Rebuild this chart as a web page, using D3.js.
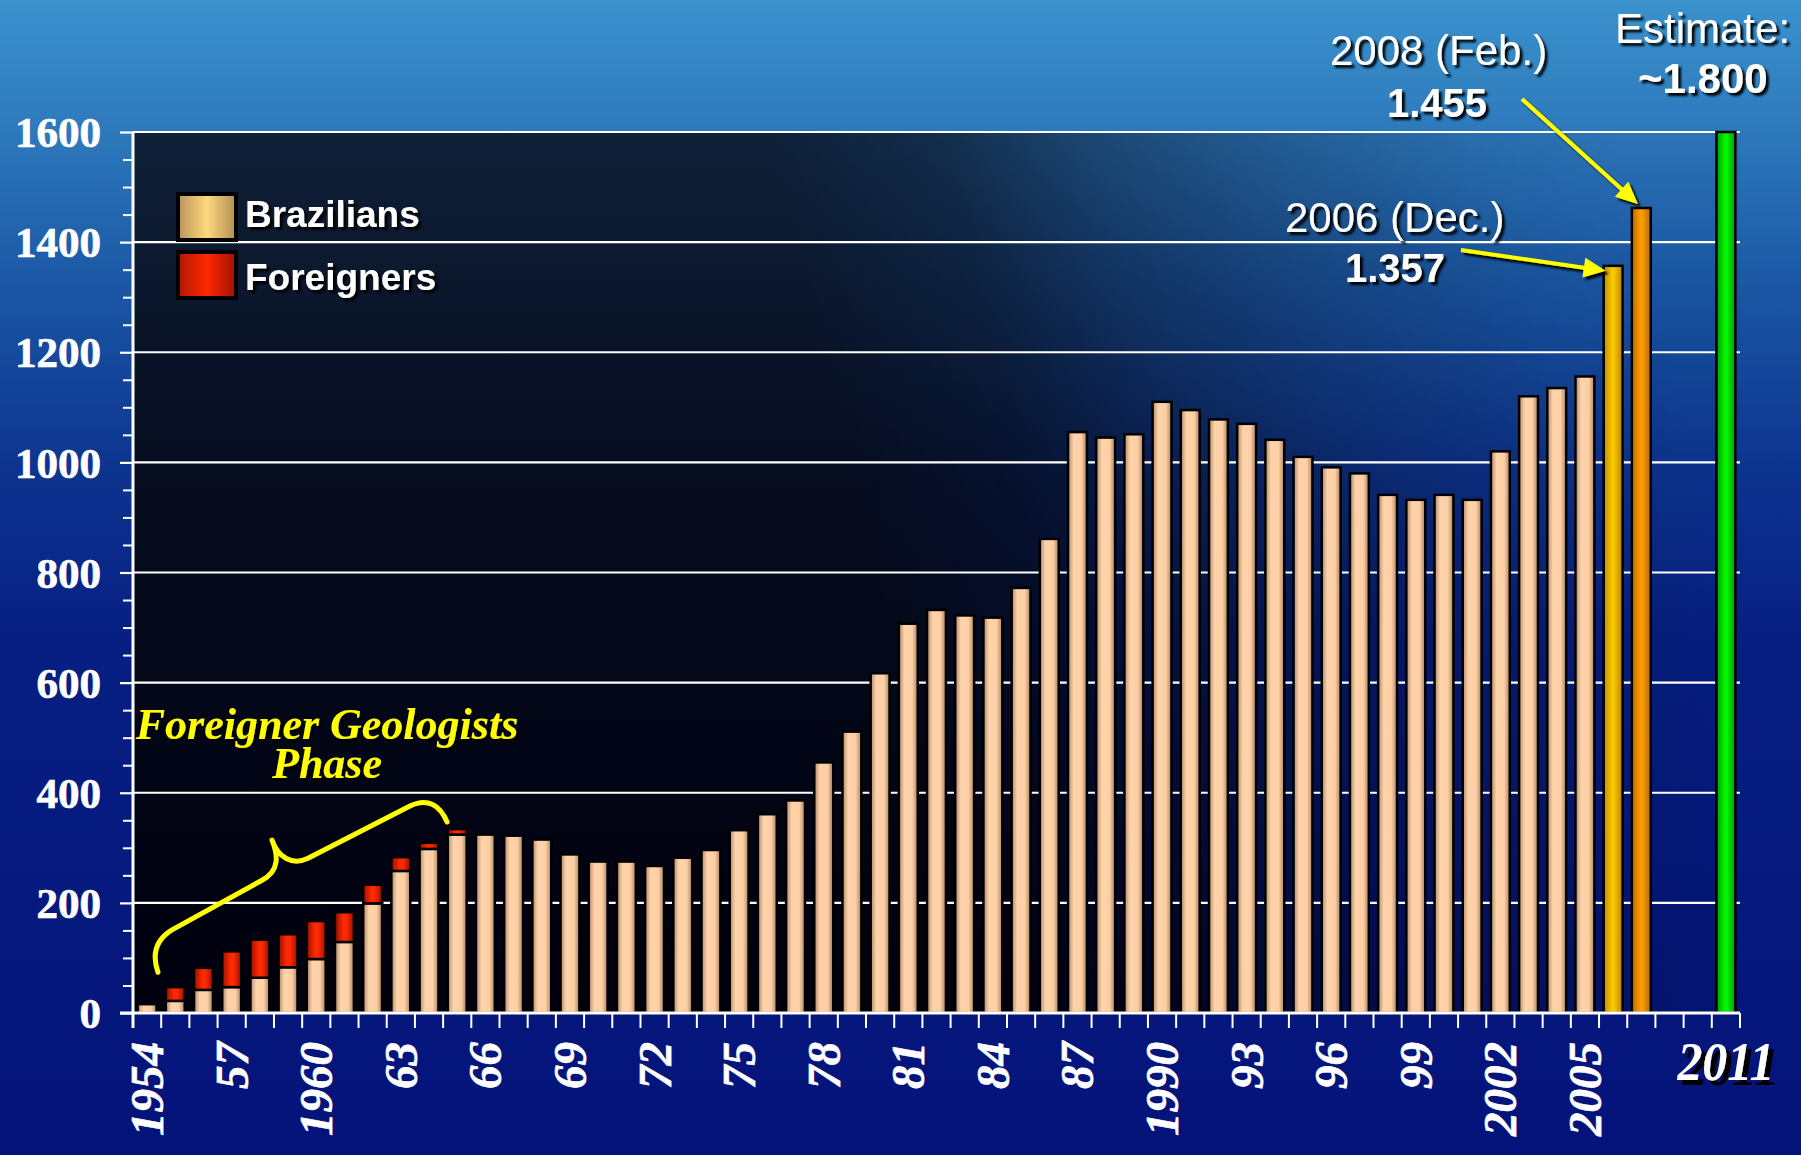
<!DOCTYPE html>
<html><head><meta charset="utf-8">
<script src="https://cdn.jsdelivr.net/npm/d3@7"></script>
<style>html,body{margin:0;padding:0;background:#0a1f80;overflow:hidden}</style>
</head><body><svg id="c" width="1801" height="1155"></svg>
<script>
// ---------------- DATA ----------------
const categories = ["1954","1955","1956","1957","1958","1959","1960","1961","1962","1963","1964","1965","1966","1967","1968","1969","1970","1971","1972","1973","1974","1975","1976","1977","1978","1979","1980","1981","1982","1983","1984","1985","1986","1987","1988","1989","1990","1991","1992","1993","1994","1995","1996","1997","1998","1999","2000","2001","2002","2003","2004","2005","2006","2008","2009","2010","2011"];
const histCategories = ["1954","1955","1956","1957","1958","1959","1960","1961","1962","1963","1964","1965","1966","1967","1968","1969","1970","1971","1972","1973","1974","1975","1976","1977","1978","1979","1980","1981","1982","1983","1984","1985","1986","1987","1988","1989","1990","1991","1992","1993","1994","1995","1996","1997","1998","1999","2000","2001","2002","2003","2004","2005"];
const brazilians = [16,22,42,47,64,83,98,129,199,258,298,324,324,322,315,288,275,275,267,282,296,332,361,386,455,511,617,707,732,722,718,772,861,1055,1045,1051,1110,1095,1078,1070,1041,1010,991,980,941,932,941,932,1020,1120,1135,1156];
const foreigners = [0,25,40,65,69,60,69,54,34,25,11,10,0,0,0,0,0,0,0,0,0,0,0,0,0,0,0,0,0,0,0,0,0,0,0,0,0,0,0,0,0,0,0,0,0,0,0,0,0,0,0,0];
const recentCategories = ["2006","2008"];
const recentValues = [1357,1462];
const recentLabels = ["2006 (Dec.)","2008 (Feb.)"];
const recentValueLabels = ["1.357","1.455"];
const estimateCategory = "2011";
const estimateValue = 1800;
const estimateLabel = "Estimate:";
const estimateValueLabel = "~1.800";
const yTicks = [0,200,400,600,800,1000,1200,1400,1600];
const xLabelCategories = ["1954","1957","1960","1963","1966","1969","1972","1975","1978","1981","1984","1987","1990","1993","1996","1999","2002","2005"];
const xLabelTexts = ["1954","57","1960","63","66","69","72","75","78","81","84","87","1990","93","96","99","2002","2005"];
const seriesNames = ["Brazilians","Foreigners"];
const phaseLabel = ["Foreigner Geologists","Phase"];

// ---------------- LAYOUT ----------------
const W = 1801, H = 1155;
const L = 133, R = 1740, T = 132, B = 1013;
const SERIF = "'Liberation Serif','Times New Roman',serif";
const SANS = "'Liberation Sans',Arial,sans-serif";

const svg = d3.select("#c");
const defs = svg.append("defs");

function lin(id, stops, horiz = true) {
  const g = defs.append("linearGradient").attr("id", id)
    .attr("x1", 0).attr("y1", 0).attr("x2", horiz ? 1 : 0).attr("y2", horiz ? 0 : 1);
  stops.forEach(s => g.append("stop").attr("offset", s[0]).attr("stop-color", s[1]).attr("stop-opacity", s[2] == null ? 1 : s[2]));
  return g;
}
lin("bg", [[0, "#3b92cd"], [0.1, "#2f7cbe"], [0.25, "#1a56a4"], [0.4, "#0d3590"], [0.55, "#071f82"], [1, "#04137a"]], false);
lin("bz", [[0, "#b08868"], [0.3, "#ffd3aa"], [0.7, "#ffcfa5"], [1, "#a88262"]]);
lin("fr", [[0, "#9a1000"], [0.45, "#ff2a00"], [0.6, "#ff2a00"], [1, "#9a1000"]]);
lin("bzL", [[0, "#b8945a"], [0.5, "#ffd880"], [1, "#b08c52"]]);
lin("frL", [[0, "#b01800"], [0.5, "#ff2800"], [1, "#a01000"]]);
lin("gold", [[0, "#c08c00"], [0.5, "#ffcc00"], [1, "#b88400"]]);
lin("orng", [[0, "#c06c00"], [0.5, "#ffa000"], [1, "#b86800"]]);
lin("grn", [[0, "#009c00"], [0.5, "#00ff00"], [1, "#009800"]]);
lin("darkV", [[0, "#0f2038"], [0.4, "#060c1e"], [1, "#00000e"]], false);
const mg = defs.append("linearGradient").attr("id", "maskG")
  .attr("gradientUnits", "userSpaceOnUse").attr("x1", L).attr("y1", B).attr("x2", R).attr("y2", B - 400);
[[0, 1], [0.5, 1], [0.6, 0.85], [0.69, 0.55], [0.8, 0.3], [0.92, 0.1], [1, 0.04]]
  .forEach(s => mg.append("stop").attr("offset", s[0]).attr("stop-color", "#fff").attr("stop-opacity", s[1]));
defs.append("mask").attr("id", "plotMask").attr("maskUnits", "userSpaceOnUse")
  .attr("x", 0).attr("y", 0).attr("width", W).attr("height", H)
  .append("rect").attr("x", L).attr("y", T).attr("width", R - L).attr("height", B - T).attr("fill", "url(#maskG)");

const f = defs.append("filter").attr("id", "sh").attr("x", "-20%").attr("y", "-30%").attr("width", "150%").attr("height", "180%");
f.append("feDropShadow").attr("dx", 3).attr("dy", 3).attr("stdDeviation", 0.8).attr("flood-color", "#000").attr("flood-opacity", 0.95);
const f2 = defs.append("filter").attr("id", "sh2").attr("x", "-20%").attr("y", "-30%").attr("width", "150%").attr("height", "180%");
f2.append("feDropShadow").attr("dx", 5).attr("dy", 5).attr("stdDeviation", 0.6).attr("flood-color", "#000").attr("flood-opacity", 1);

svg.append("rect").attr("width", W).attr("height", H).attr("fill", "url(#bg)");
svg.append("rect").attr("x", L).attr("y", T).attr("width", R - L).attr("height", B - T)
  .attr("fill", "url(#darkV)").attr("mask", "url(#plotMask)");

// ---------------- SCALES ----------------
const x = d3.scaleBand().domain(categories).range([L, R]).paddingInner(0.33).paddingOuter(0.165);
const y = d3.scaleLinear().domain([0, 1600]).range([B, T]).clamp(true);
const bw = x.bandwidth();

// gridlines
svg.append("g").selectAll("line").data(yTicks.filter(v => v > 0)).join("line")
  .attr("x1", L).attr("x2", R).attr("y1", d => y(d)).attr("y2", d => y(d))
  .attr("stroke", "#fff").attr("stroke-width", 2.2);

// ---------------- BARS ----------------
const hist = histCategories.map((c, i) => ({ c, b: brazilians[i], f: foreigners[i] }));
const gb = svg.append("g").attr("stroke", "#000").attr("stroke-width", 2.5);
gb.selectAll("rect.bz").data(hist).join("rect").attr("class", "bz")
  .attr("x", d => x(d.c)).attr("width", bw)
  .attr("y", d => y(d.b)).attr("height", d => y(0) - y(d.b)).attr("fill", "url(#bz)");
gb.selectAll("rect.fr").data(hist.filter(d => d.f > 0)).join("rect").attr("class", "fr")
  .attr("x", d => x(d.c)).attr("width", bw)
  .attr("y", d => y(d.b + d.f)).attr("height", d => y(d.b) - y(d.b + d.f)).attr("fill", "url(#fr)");
const recent = recentCategories.map((c, i) => ({ c, v: recentValues[i], fill: i === 0 ? "url(#gold)" : "url(#orng)" }));
gb.selectAll("rect.rc").data(recent).join("rect").attr("class", "rc")
  .attr("x", d => x(d.c)).attr("width", bw)
  .attr("y", d => y(d.v)).attr("height", d => y(0) - y(d.v)).attr("fill", d => d.fill);
gb.append("rect").attr("x", x(estimateCategory)).attr("width", bw)
  .attr("y", y(estimateValue)).attr("height", y(0) - y(estimateValue)).attr("fill", "url(#grn)");

// ---------------- AXES ----------------
const ya = svg.append("g").attr("transform", `translate(${L},0)`)
  .call(d3.axisLeft(y).tickValues(yTicks).tickSize(13).tickPadding(19).tickFormat(d3.format("d")));
ya.select(".domain").remove();
ya.selectAll("line").attr("stroke", "#fff").attr("stroke-width", 2.2);
ya.selectAll("text").attr("fill", "#fff").attr("font-family", SERIF).attr("font-weight", "bold")
  .attr("font-size", 43).attr("dy", "0.34em").attr("stroke", "#fff").attr("stroke-width", 0.7);
const yMinor = d3.range(0, 1600, 50).filter(v => v % 200 !== 0);
const ym = svg.append("g").attr("transform", `translate(${L},0)`)
  .call(d3.axisLeft(y).tickValues(yMinor).tickSize(10).tickFormat(""));
ym.select(".domain").remove();
ym.selectAll("line").attr("stroke", "#fff").attr("stroke-width", 2);
svg.append("line").attr("x1", L).attr("x2", L).attr("y1", T).attr("y2", B + 15).attr("stroke", "#fff").attr("stroke-width", 3);
svg.append("line").attr("x1", L - 13).attr("x2", R).attr("y1", B).attr("y2", B).attr("stroke", "#fff").attr("stroke-width", 3);
const step = x.step();
svg.append("g").selectAll("line").data(d3.range(categories.length + 1)).join("line")
  .attr("x1", i => L + i * step).attr("x2", i => L + i * step)
  .attr("y1", B).attr("y2", B + 15).attr("stroke", "#fff").attr("stroke-width", 2);
svg.append("g").selectAll("text").data(xLabelCategories).join("text")
  .attr("transform", d => `translate(${x(d) + bw / 2},1042) rotate(-90)`)
  .attr("text-anchor", "end").attr("dy", "0.34em")
  .attr("fill", "#fff").attr("font-family", SERIF).attr("font-weight", "bold").attr("font-style", "italic")
  .attr("font-size", 47).attr("stroke", "#fff").attr("stroke-width", 0.6).text((d, i) => xLabelTexts[i]);
svg.append("text").attr("x", x(estimateCategory) + bw / 2).attr("y", 1080)
  .attr("text-anchor", "middle").attr("fill", "#fff").attr("font-family", SERIF)
  .attr("font-weight", "bold").attr("font-style", "italic").attr("font-size", 55)
  .attr("textLength", 97).attr("lengthAdjust", "spacingAndGlyphs")
  .attr("filter", "url(#sh2)").text(estimateCategory);

// ---------------- LEGEND ----------------
const lg = svg.append("g");
const legFills = ["url(#bzL)", "url(#frL)"];
seriesNames.forEach((n, i) => {
  lg.append("rect").attr("x", 178).attr("y", 194 + i * 58).attr("width", 58).attr("height", 46)
    .attr("fill", legFills[i]).attr("stroke", "#000").attr("stroke-width", 4);
  lg.append("text").attr("x", 245).attr("y", 227 + i * 63).attr("fill", "#fff")
    .attr("font-family", SANS).attr("font-weight", "bold").attr("font-size", 37)
    .attr("filter", "url(#sh)").text(n);
});

// ---------------- ANNOTATIONS ----------------
const ph = svg.append("g").attr("filter", "url(#sh)").attr("fill", "#ffff00")
  .attr("font-family", SERIF).attr("font-weight", "bold").attr("font-style", "italic")
  .attr("font-size", 44).attr("text-anchor", "middle");
ph.append("text").attr("x", 327).attr("y", 739).text(phaseLabel[0]);
ph.append("text").attr("x", 327).attr("y", 778).text(phaseLabel[1]);

const xs = s => L + s * step;
const P = (s, v) => `${xs(s).toFixed(1)},${y(v).toFixed(1)}`;
const braceD = `M${P(0.887, 74)} C${P(0.674, 105)} ${P(0.78, 132)} ${P(1.383, 151)} L${P(4.576, 241)} ` +
  `C${P(5.215, 259)} ${P(5.144, 287)} ${P(4.931, 314)} C${P(5.144, 283)} ${P(5.64, 267)} ${P(6.208, 281)} ` +
  `L${P(9.826, 376)} C${P(10.465, 392)} ${P(10.89, 377)} ${P(11.14, 347)}`;
svg.append("path").attr("d", braceD).attr("fill", "none").attr("stroke", "#ffff00")
  .attr("stroke-width", 5).attr("stroke-linecap", "round").attr("stroke-linejoin", "round");

const ann = svg.append("g").attr("filter", "url(#sh)").attr("fill", "#fff").attr("font-family", SANS);
const labelPos = [{ x: 1285, y: 232, vx: 1345, vy: 282 }, { x: 1330, y: 65, vx: 1387, vy: 117 }];
recentLabels.forEach((t, i) => {
  ann.append("text").attr("x", labelPos[i].x).attr("y", labelPos[i].y).attr("font-size", 42).text(t);
  ann.append("text").attr("x", labelPos[i].vx).attr("y", labelPos[i].vy).attr("font-size", 40).attr("font-weight", "bold").text(recentValueLabels[i]);
});
ann.append("text").attr("x", 1615).attr("y", 43).attr("font-size", 42).text(estimateLabel);
ann.append("text").attr("x", 1638).attr("y", 93).attr("font-size", 42).attr("font-weight", "bold").text(estimateValueLabel);

const arrows = [
  { sx: 1461, sy: 250, tx: x(recentCategories[0]) + 2, ty: y(recentValues[0]) + 5 },
  { sx: 1522, sy: 99, tx: x(recentCategories[1]) + 6, ty: y(recentValues[1]) - 4 }
];
const ag = svg.append("g").attr("filter", "url(#sh)");
arrows.forEach(a => {
  const dx = a.tx - a.sx, dy = a.ty - a.sy, len = Math.hypot(dx, dy);
  const ux = dx / len, uy = dy / len, hl = 22, hw = 10;
  const bx = a.tx - ux * hl, by = a.ty - uy * hl;
  ag.append("line").attr("x1", a.sx).attr("y1", a.sy).attr("x2", bx + ux * 2).attr("y2", by + uy * 2)
    .attr("stroke", "#ffff00").attr("stroke-width", 4);
  ag.append("polygon").attr("points", `${a.tx},${a.ty} ${bx - uy * hw},${by + ux * hw} ${bx + uy * hw},${by - ux * hw}`)
    .attr("fill", "#ffff00");
});
</script></body></html>
